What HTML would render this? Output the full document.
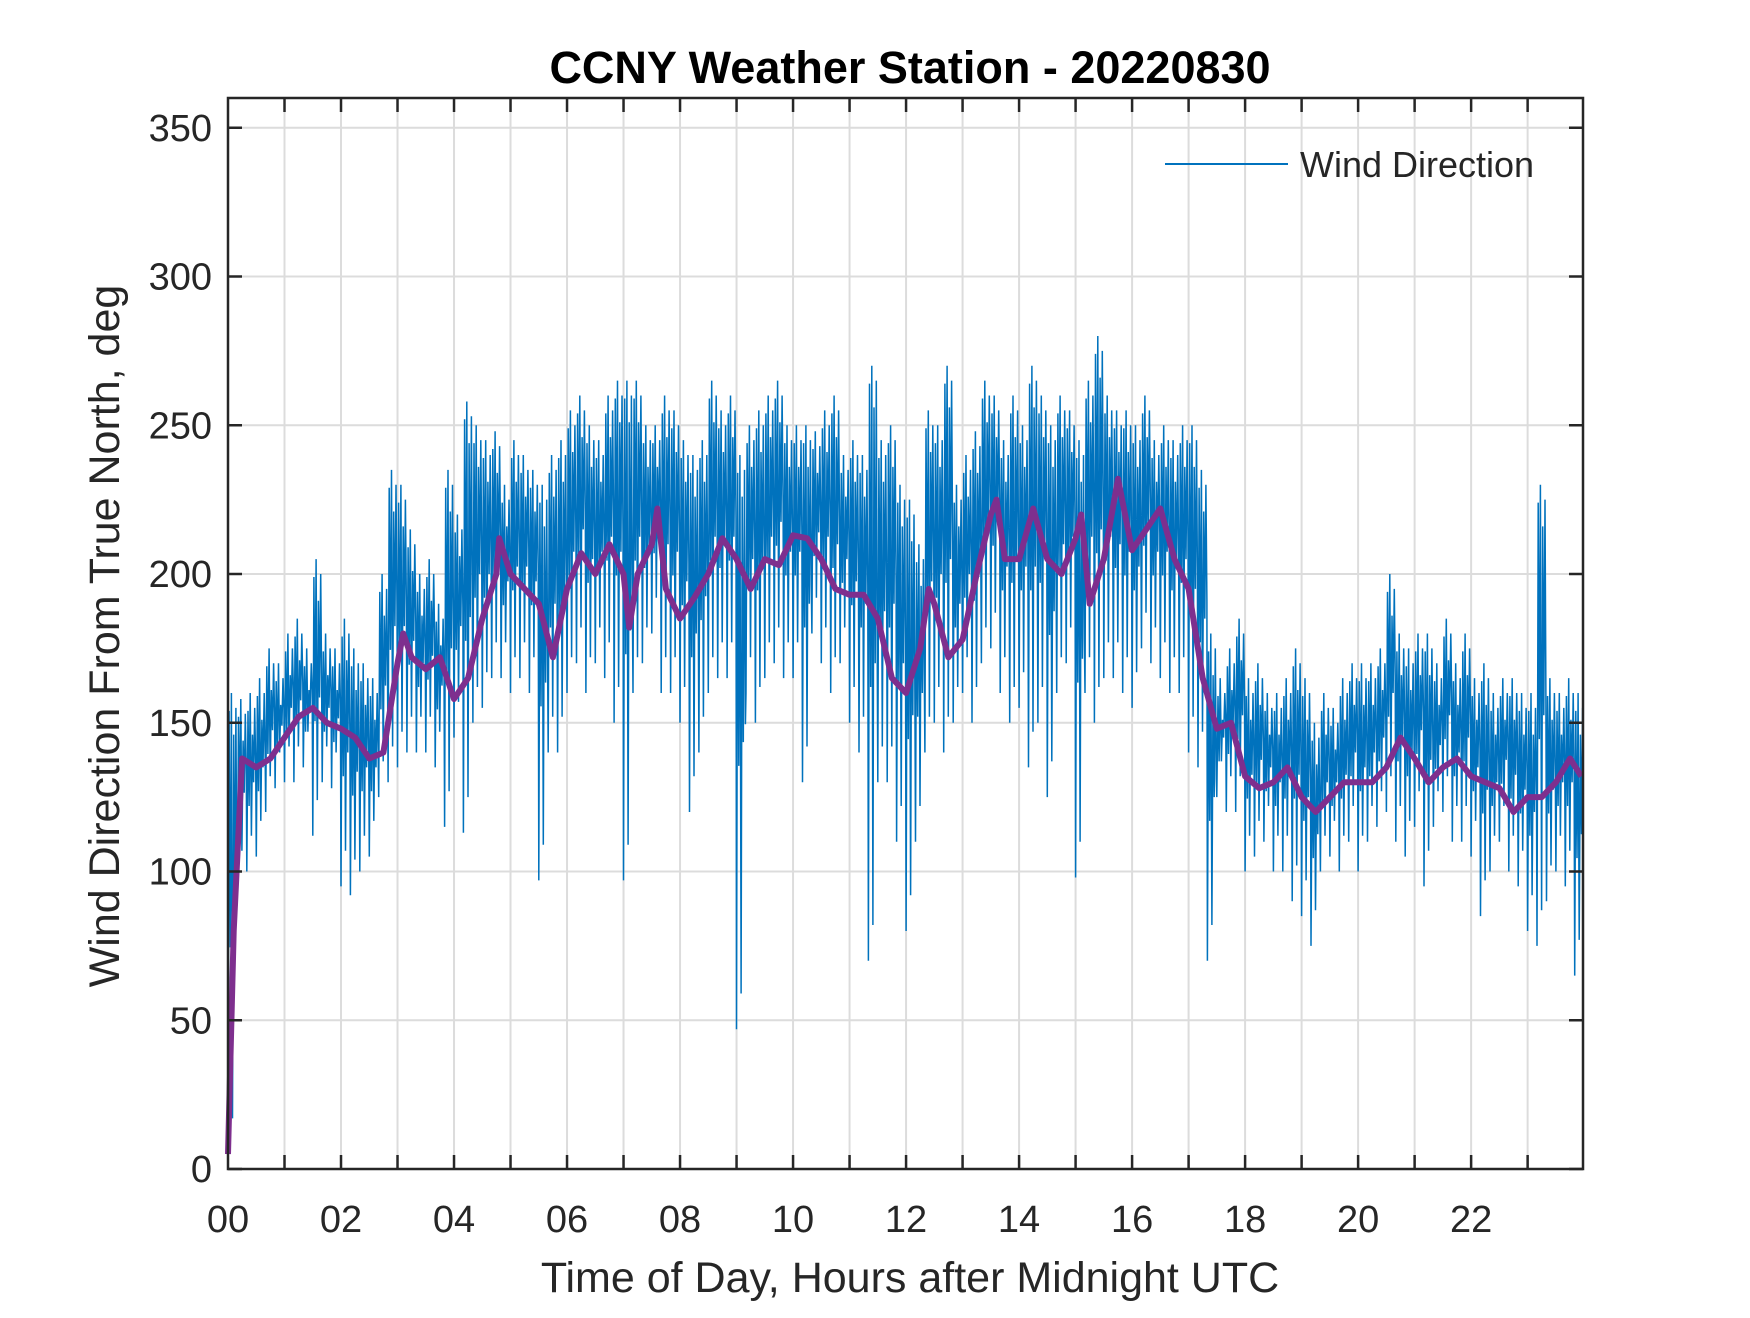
<!DOCTYPE html>
<html><head><meta charset="utf-8"><style>
body{margin:0;background:#fff}
svg text{font-family:"Liberation Sans",Arial,sans-serif;fill:#262626}
</style></head><body>
<svg id="chart" width="1750" height="1313" viewBox="0 0 1750 1313" xmlns="http://www.w3.org/2000/svg">
<rect width="1750" height="1313" fill="#fff"/>
<g id="grid"></g>
<g id="series"></g>
<g id="axes"></g>
<text x="910" y="83" text-anchor="middle" font-size="45" font-weight="bold" style="fill:#000">CCNY Weather Station - 20220830</text>
<text x="910" y="1292" text-anchor="middle" font-size="43">Time of Day, Hours after Midnight UTC</text>
<text transform="translate(119,636) rotate(-90)" text-anchor="middle" font-size="43">Wind Direction From True North, deg</text>
<g>
<line x1="1165" y1="164" x2="1288" y2="164" stroke="#0072bd" stroke-width="2"/>
<text x="1300" y="177" font-size="36">Wind Direction</text>
</g>
</svg>
<script>
const hiVals=[160,158,160,165,175,170, 180,185,175,205,180,175, 185,175,170,165,200,235, 230,215,200,205,190,235, 220,258,250,245,248,230, 245,240,235,230,240,245, 255,260,250,245,260,265, 265,265,250,250,260,255, 245,240,245,265,255,260, 240,250,255,260,265,250, 250,250,248,255,260,240, 245,240,270,245,250,230, 225,210,255,250,270,230, 240,248,265,260,245,260, 250,270,260,250,260,255, 245,265,280,260,255,255, 250,260,245,250,245,250, 250,235,180,165,175,185, 165,170,160,160,165,175, 165,150,160,155,165,170, 170,170,175,200,180,175, 180,180,170,185,170,180, 165,170,160,165,165,160, 160,230,165,160,165,160];
const loVals=[5,95,100,105,120,128, 130,130,135,112,130,128, 95,92,100,105,125,130, 135,140,140,140,135,115, 145,113,150,155,165,165, 160,165,160,97,140,140, 160,170,160,170,165,150, 97,160,170,180,160,160, 150,120,140,160,165,165, 47,160,150,165,170,165, 165,130,180,170,160,170, 150,140,70,130,130,110, 80,110,140,150,140,150, 160,150,170,175,160,150, 155,135,150,125,160,170, 98,160,150,165,165,160, 155,175,170,165,160,160, 140,135,70,125,120,120, 100,105,110,100,100,90, 85,75,100,105,100,110, 100,110,115,120,110,105, 115,95,115,120,110,110, 105,85,100,110,100,95, 80,75,90,100,95,65];
const avgHours=[0,0.1,0.25,0.5,0.75,1,1.25,1.5,1.75,2,2.25,2.5,2.75,3,3.1,3.25,3.5,3.75,4,4.25,4.5,4.75,4.8,5,5.25,5.5,5.75,6,6.25,6.5,6.75,7,7.1,7.25,7.5,7.6,7.75,8,8.25,8.5,8.75,9,9.25,9.5,9.75,10,10.25,10.5,10.75,11,11.25,11.5,11.75,12,12.25,12.4,12.5,12.75,13,13.25,13.5,13.6,13.75,14,14.25,14.5,14.75,15,15.1,15.25,15.5,15.75,16,16.25,16.5,16.75,17,17.25,17.5,17.75,18,18.25,18.5,18.75,19,19.25,19.5,19.75,20,20.25,20.5,20.75,21,21.25,21.5,21.75,22,22.25,22.5,22.75,23,23.25,23.5,23.75,23.95];
const avgVals=[5,80,138,135,138,145,152,155,150,148,145,138,140,170,180,172,168,172,158,165,185,200,212,200,195,190,172,195,207,200,210,200,182,200,210,222,195,185,192,200,212,205,195,205,203,213,212,205,195,193,193,185,165,160,175,195,190,172,178,200,220,225,205,205,222,205,200,212,220,190,205,232,208,215,222,205,195,165,148,150,132,128,130,135,125,120,125,130,130,130,135,145,138,130,135,138,132,130,128,120,125,125,130,138,132];
const xTickLabels=["00","02","04","06","08","10","12","14","16","18","20","22"];
const yTickLabels=[0,50,100,150,200,250,300,350];

const L=228,R=1583,T=98,B=1169,XMAX=23.98,YMAX=360;
const sx=h=>L+h*(R-L)/XMAX, sy=v=>B-v*(B-T)/YMAX;
const NS="http://www.w3.org/2000/svg";
function mk(tag,parent,attrs){const e=document.createElementNS(NS,tag);for(const k in attrs)e.setAttribute(k,attrs[k]);parent.appendChild(e);return e;}
const grid=document.getElementById('grid'),axes=document.getElementById('axes'),series=document.getElementById('series');
for(let h=1;h<24;h++){const l=mk('line',grid,{x1:sx(h),x2:sx(h),y1:T,y2:B,stroke:'#dcdcdc','stroke-width':2});


for(const [a,b] of [[B,B-14],[T,T+14]]){const t=mk('line',axes,{x1:sx(h),x2:sx(h),y1:a,y2:b,stroke:'#262626','stroke-width':2.5});

}}
yTickLabels.forEach(v=>{const y=sy(v);
if(v>0){const g=mk('line',grid,{x1:L,x2:R,y1:y,y2:y,stroke:'#dcdcdc','stroke-width':2});

}
for(const [a,b] of [[L,L+14],[R,R-14]]){const t=mk('line',axes,{x1:a,x2:b,y1:y,y2:y,stroke:'#262626','stroke-width':2.5});

}
const tx=mk('text',axes,{x:212,y:y+13,'text-anchor':'end','font-size':38});tx.textContent=v;

});
xTickLabels.forEach((s,i)=>{const tx=mk('text',axes,{x:sx(i*2),y:1232,'text-anchor':'middle','font-size':38});tx.textContent=s;

});
const frame=mk('rect',axes,{x:L,y:T,width:R-L,height:B-T,fill:'none',stroke:'#262626','stroke-width':2.5});


let pts=[];const bw=1/6;
hiVals.forEach((hv,i)=>{const lv=loVals[i],t0=i*bw;
pts.push([t0,lv],[t0+bw*0.12,hv-6],[t0+bw*0.24,(lv+hv)/2-8],[t0+bw*0.36,hv],[t0+bw*0.48,lv+12],[t0+bw*0.6,hv-14],[t0+bw*0.72,(lv+hv)/2],[t0+bw*0.84,hv-5],[t0+bw*0.94,(lv+hv)/2+6]);});
const blue=mk('polyline',series,{points:pts.map(p=>sx(Math.min(p[0],XMAX)).toFixed(1)+','+sy(p[1]).toFixed(1)).join(' '),fill:'none',stroke:'#0072bd','stroke-width':1.5});


const avg=mk('polyline',series,{points:avgHours.map((h,i)=>sx(h).toFixed(1)+','+sy(avgVals[i]).toFixed(1)).join(' '),fill:'none',stroke:'#7e2f8e','stroke-width':6,'stroke-linejoin':'round'});


</script>
</body></html>
